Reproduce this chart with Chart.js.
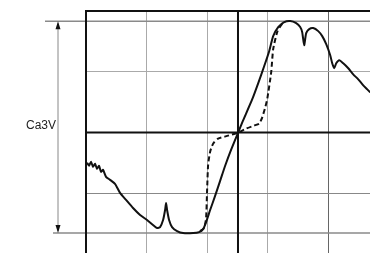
<!DOCTYPE html>
<html>
<head>
<meta charset="utf-8">
<script src="https://cdn.jsdelivr.net/npm/chart.js@4"></script>
<style>
  html, body { margin: 0; padding: 0; background: #fff; }
  #wrap { width: 370px; height: 253px; }
</style>
</head>
<body>
<div id="wrap"><canvas id="scope" width="370" height="253"></canvas></div>
<script>
// values in grid divisions (x from left border, y from centre line)
const solidX = [0.017, 0.05, 0.083, 0.116, 0.149, 0.182, 0.215, 0.248, 0.281, 0.331, 0.397, 0.479, 0.562, 0.661, 0.777, 0.893, 1.008, 1.107, 1.174, 1.223, 1.273, 1.306, 1.322, 1.339, 1.372, 1.421, 1.504, 1.603, 1.769, 1.868, 1.934, 1.983, 2.05, 2.132, 2.215, 2.298, 2.397, 2.512, 2.579, 2.744, 2.843, 2.942, 3.025, 3.091, 3.174, 3.273, 3.372, 3.471, 3.537, 3.57, 3.603, 3.636, 3.686, 3.752, 3.835, 3.901, 3.967, 4.033, 4.066, 4.099, 4.132, 4.182, 4.248, 4.331, 4.413, 4.496, 4.579, 4.645, 4.694];
const solidY = [-0.496, -0.545, -0.479, -0.562, -0.512, -0.595, -0.545, -0.645, -0.612, -0.727, -0.777, -0.843, -0.992, -1.107, -1.24, -1.355, -1.438, -1.521, -1.57, -1.554, -1.438, -1.273, -1.157, -1.273, -1.438, -1.554, -1.62, -1.653, -1.653, -1.636, -1.587, -1.471, -1.273, -1.041, -0.793, -0.545, -0.281, 0, 0.165, 0.545, 0.81, 1.091, 1.339, 1.587, 1.736, 1.818, 1.835, 1.802, 1.736, 1.653, 1.438, 1.636, 1.702, 1.719, 1.669, 1.587, 1.455, 1.273, 1.14, 1.058, 1.14, 1.19, 1.14, 1.058, 0.959, 0.876, 0.777, 0.711, 0.661];

const dashX = [1.884, 1.95, 1.983, 2.0, 2.017, 2.05, 2.099, 2.182, 2.347, 2.512, 2.645, 2.777, 2.86, 2.909, 2.959, 2.992, 3.058, 3.091, 3.157, 3.223, 3.289];
const dashY = [-1.62, -1.57, -1.405, -0.942, -0.529, -0.314, -0.182, -0.099, -0.05, 0, 0.066, 0.116, 0.149, 0.248, 0.413, 0.545, 0.992, 1.372, 1.653, 1.769, 1.818];

const xTicks = [0, 1, 2, 3, 4];
const yTicks = [-1, 0, 1, 2];
const centreX = 2.51;
const refTop = 1.83;
const refBottom = -1.65;
const spanLabel = 'Ca3V';

const toPoints = (xs, ys) => xs.map((x, i) => ({ x: x, y: ys[i] }));

// centre axes, span arrows and label
const scopeMarks = {
    id: 'scopeMarks',
    beforeDatasetsDraw(chart) {
        const c = chart.ctx;
        const xs = chart.scales.x, ys = chart.scales.y;
        const area = chart.chartArea;
        c.save();

        // reference lines for the span
        c.strokeStyle = '#8a8a8a';
        c.lineWidth = 1.5;
        const yt = ys.getPixelForValue(refTop);
        const yb = ys.getPixelForValue(refBottom);
        c.beginPath();
        c.moveTo(45, yt); c.lineTo(area.right, yt);
        c.moveTo(53, yb); c.lineTo(area.right, yb);
        c.stroke();

        // vertical span line with arrows
        const ax = 58;
        c.strokeStyle = '#888';
        c.lineWidth = 1;
        c.beginPath();
        c.moveTo(ax, yt + 2); c.lineTo(ax, yb - 2);
        c.stroke();
        c.fillStyle = '#111';
        c.beginPath();
        c.moveTo(ax, yt); c.lineTo(ax - 2.5, yt + 8); c.lineTo(ax + 2.5, yt + 8); c.closePath();
        c.moveTo(ax, yb); c.lineTo(ax - 2.5, yb - 8); c.lineTo(ax + 2.5, yb - 8); c.closePath();
        c.fill();

        // label
        c.fillStyle = '#222';
        c.font = '12px "Liberation Sans", Arial, sans-serif';
        c.textAlign = 'right';
        c.textBaseline = 'middle';
        c.fillText(spanLabel, 56, 126);

        // centre axes
        c.strokeStyle = '#111';
        c.lineWidth = 2;
        const cx = xs.getPixelForValue(centreX);
        const cy = ys.getPixelForValue(0);
        c.beginPath();
        c.moveTo(cx, area.top); c.lineTo(cx, area.bottom);
        c.moveTo(area.left, cy); c.lineTo(area.right, cy);
        c.stroke();

        // top and left borders
        c.beginPath();
        c.moveTo(area.left, area.bottom); c.lineTo(area.left, area.top); c.lineTo(area.right, area.top);
        c.stroke();
        c.restore();
    }
};

new Chart(document.getElementById('scope').getContext('2d'), {
    type: 'scatter',
    data: {
        datasets: [{
            data: toPoints(solidX, solidY),
            showLine: true,
            borderColor: '#111',
            borderWidth: 2,
            pointRadius: 0,
            tension: 0.2
        }, {
            data: toPoints(dashX, dashY),
            showLine: true,
            borderColor: '#111',
            borderWidth: 2,
            borderDash: [5, 3],
            pointRadius: 0,
            tension: 0.2
        }]
    },
    options: {
        responsive: false,
        animation: false,
        layout: { padding: { left: 86, top: 11, right: 0, bottom: 0 } },
        plugins: { legend: { display: false }, tooltip: { enabled: false } },
        scales: {
            x: {
                type: 'linear',
                min: 0,
                max: 4.69,
                afterBuildTicks: s => { s.ticks = xTicks.map(v => ({ value: v })); },
                ticks: { display: false },
                border: { display: false },
                grid: {
                    drawTicks: false,
                    color: ctx => ctx.tick.value === 4 ? '#666' : '#aaa',
                    lineWidth: 1
                }
            },
            y: {
                type: 'linear',
                min: -1.98,
                max: 2.0,
                afterBuildTicks: s => { s.ticks = yTicks.map(v => ({ value: v })); },
                ticks: { display: false },
                border: { display: false },
                grid: {
                    drawTicks: false,
                    color: ctx => ctx.tick.value === -1 ? '#888' : '#aaa',
                    lineWidth: 1
                }
            }
        }
    },
    plugins: [scopeMarks]
});
</script>
</body>
</html>
